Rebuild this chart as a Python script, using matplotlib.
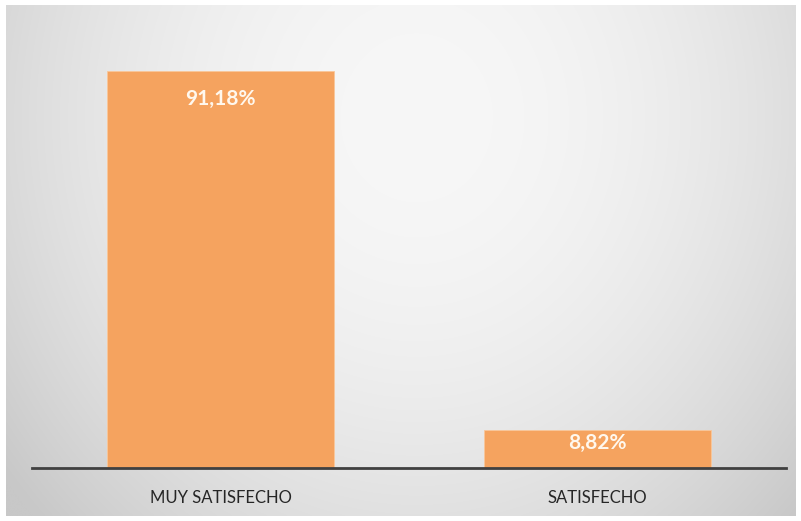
import numpy as np
import matplotlib
matplotlib.use("Agg")
import matplotlib.pyplot as plt

categories = ["MUY SATISFECHO", "SATISFECHO"]
values = [91.18, 8.82]
value_labels = ["91,18%", "8,82%"]

W, H, DPI = 801, 521, 100
fig = plt.figure(figsize=(W / DPI, H / DPI), dpi=DPI)
fig.patch.set_facecolor("white")

# gray panel with a soft radial gradient
bg = fig.add_axes([6 / W, 5 / H, 790 / W, 511 / H])
bg.set_axis_off()
ny, nx = 300, 460
yy, xx = np.mgrid[0:1:ny * 1j, 0:1:nx * 1j]
r2 = ((xx - 0.52) / 0.64) ** 2 + ((yy - 0.22) / 1.1) ** 2
shade = np.clip(247 - 44 * r2, 200, 247) / 255.0
img = np.dstack([shade, shade, shade])
bg.imshow(img, aspect="auto", extent=[0, 1, 1, 0], interpolation="bicubic")
bg.set_xlim(0, 1)
bg.set_ylim(1, 0)

# plot area
x0, x1 = 32, 786
y_axis, y_top = 468, 33
ax = fig.add_axes([x0 / W, (H - y_axis) / H, (x1 - x0) / W, (y_axis - y_top) / H])
ax.patch.set_alpha(0)
pos = np.arange(len(categories))
bars = ax.bar(pos, values, width=0.6, color="#F5A35F", edgecolor="#F9C79A",
              linewidth=0.6, zorder=2)
ax.set_xlim(-0.5, 1.5)
ax.set_ylim(0, 100)

for s in ["top", "right", "left"]:
    ax.spines[s].set_visible(False)
ax.spines["bottom"].set_color("#404040")
ax.spines["bottom"].set_linewidth(2.0)
ax.spines["bottom"].set_zorder(3)
ax.set_yticks([])
ax.set_xticks(pos)
ax.set_xticklabels(categories, fontfamily="Lato", fontsize=12, color="#262626")
ax.tick_params(axis="x", length=0, pad=16)

px_per_unit = (y_axis - y_top) / 100.0
for b, v, lab in zip(bars, values, value_labels):
    hpx = v * px_per_unit
    off_px = min(28, 0.35 * hpx)
    ax.annotate(lab, (b.get_x() + b.get_width() / 2, v),
                xytext=(0, -off_px * 72 / DPI), textcoords="offset points",
                ha="center", va="center", fontfamily="Lato", fontweight="bold",
                fontsize=15, color="#FFF8EE", zorder=4)

fig.savefig("out.png", dpi=DPI)
